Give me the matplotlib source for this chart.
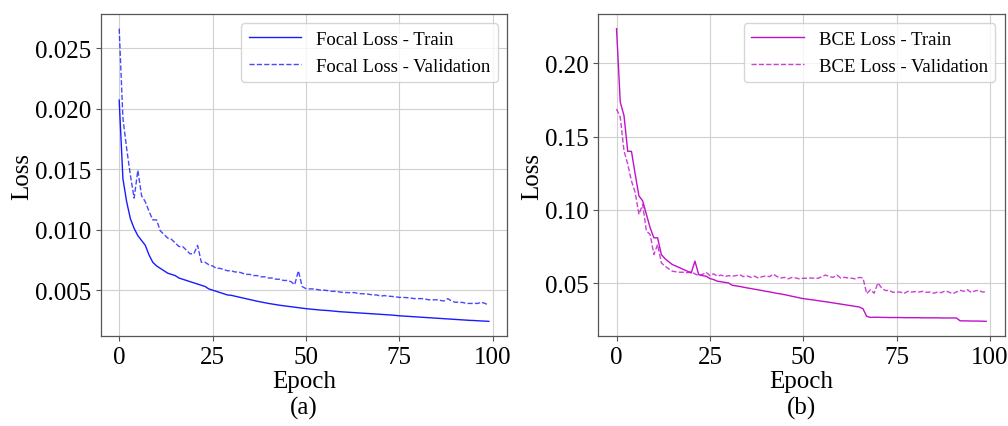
import matplotlib
matplotlib.use("Agg")
import matplotlib.pyplot as plt
import numpy as np

plt.rcParams['font.family'] = ['Liberation Serif', 'DejaVu Serif']

epochs = np.arange(100)

focal_train = [
    0.0207, 0.0142, 0.0123, 0.0109, 0.0101, 0.0095, 0.0091, 0.0087, 0.0079, 0.0073,
    0.0070, 0.0068, 0.0066, 0.0064, 0.0063, 0.0062, 0.0060, 0.0059, 0.0058, 0.0057,
    0.0056, 0.0055, 0.0054, 0.0053, 0.0051, 0.0050, 0.0049, 0.0048, 0.0047, 0.0046,
    0.00457, 0.00450, 0.00443, 0.00436, 0.00429, 0.00422, 0.00415, 0.00408, 0.00402, 0.00396,
    0.00390, 0.00385, 0.00380, 0.00375, 0.00371, 0.00367, 0.00363, 0.00359, 0.00355, 0.00351,
    0.00347, 0.00344, 0.00341, 0.00338, 0.00335, 0.00333, 0.00331, 0.00328, 0.00325, 0.00322,
    0.00320, 0.00318, 0.00316, 0.00314, 0.00312, 0.00310, 0.00308, 0.00306, 0.00304, 0.00302,
    0.00300, 0.00298, 0.00296, 0.00294, 0.00291, 0.00288, 0.00286, 0.00284, 0.00282, 0.00280,
    0.00278, 0.00276, 0.00274, 0.00272, 0.00270, 0.00268, 0.00266, 0.00264, 0.00262, 0.00260,
    0.00258, 0.00256, 0.00254, 0.00252, 0.00250, 0.00249, 0.00247, 0.00245, 0.00244, 0.00242,
]
focal_val = [
    0.0266, 0.0192, 0.0167, 0.0145, 0.0126, 0.0149, 0.0128, 0.0123, 0.0115, 0.0108,
    0.0108, 0.0099, 0.0096, 0.0093, 0.0092, 0.0089, 0.0086, 0.0086, 0.0083, 0.0080,
    0.0080, 0.0087, 0.0073, 0.0073, 0.0071, 0.0070, 0.0068, 0.0068, 0.0067, 0.0066,
    0.0066, 0.0065, 0.0065, 0.0064, 0.0063, 0.0063, 0.0062, 0.0062, 0.0061, 0.0061,
    0.0060, 0.0060, 0.0059, 0.0059, 0.0058, 0.0058, 0.0057, 0.00545, 0.0066, 0.0053,
    0.00512, 0.0051, 0.0051, 0.00505, 0.0050, 0.0050, 0.00495, 0.0049, 0.0049, 0.00485,
    0.0048, 0.0048, 0.00478, 0.0048, 0.00472, 0.0047, 0.0047, 0.00465, 0.0046, 0.0046,
    0.0045, 0.00455, 0.0045, 0.00448, 0.00445, 0.0044, 0.0044, 0.00438, 0.00435, 0.0043,
    0.0043, 0.0043, 0.00425, 0.0042, 0.0042, 0.0042, 0.00415, 0.0041, 0.0043, 0.0041,
    0.0040, 0.0040, 0.00398, 0.0039, 0.0039, 0.0039, 0.0039, 0.0040, 0.0039, 0.00375,
]

bce_train = [
    0.2237, 0.1735, 0.1644, 0.1400, 0.1400, 0.1244, 0.1096, 0.1062, 0.0970, 0.0879,
    0.0810, 0.0810, 0.0696, 0.0667, 0.0646, 0.0627, 0.0616, 0.0605, 0.0593, 0.0582,
    0.0570, 0.0651, 0.0559, 0.0552, 0.0548, 0.0532, 0.0525, 0.0514, 0.0510, 0.0506,
    0.0502, 0.0486, 0.0482, 0.0478, 0.0473, 0.0468, 0.0464, 0.0459, 0.0455, 0.0450,
    0.0445, 0.0441, 0.0436, 0.0431, 0.0427, 0.0422, 0.0417, 0.0411, 0.0406, 0.0400,
    0.0395, 0.0392, 0.0388, 0.0385, 0.0381, 0.0377, 0.0374, 0.0370, 0.0366, 0.0362,
    0.0358, 0.0354, 0.0350, 0.0346, 0.0342, 0.0338, 0.0326, 0.0274, 0.0267, 0.0268,
    0.0268, 0.0267, 0.0267, 0.0266, 0.0266, 0.0266, 0.0266, 0.0265, 0.0265, 0.0265,
    0.0265, 0.0265, 0.0264, 0.0264, 0.0264, 0.0264, 0.0264, 0.0263, 0.0263, 0.0263,
    0.0263, 0.0263, 0.0244, 0.0243, 0.0243, 0.0242, 0.0242, 0.0242, 0.0241, 0.0240,
]
bce_val = [
    0.1689, 0.1632, 0.1404, 0.1312, 0.1198, 0.1118, 0.0970, 0.1038, 0.0856, 0.0833,
    0.0696, 0.0764, 0.0639, 0.0616, 0.0598, 0.0582, 0.0578, 0.0575, 0.0575, 0.0572,
    0.0578, 0.0564, 0.0552, 0.0560, 0.0575, 0.0552, 0.0564, 0.0548, 0.0556, 0.0545,
    0.0552, 0.0548, 0.0552, 0.0558, 0.0545, 0.0550, 0.0540, 0.0548, 0.0535, 0.0545,
    0.0550, 0.0545, 0.0562, 0.0545, 0.0536, 0.0540, 0.0530, 0.0540, 0.0536, 0.0530,
    0.0534, 0.0534, 0.0536, 0.0534, 0.0534, 0.0545, 0.0556, 0.0545, 0.0540, 0.0556,
    0.0536, 0.0540, 0.0536, 0.0534, 0.0530, 0.0540, 0.0536, 0.0429, 0.0456, 0.0432,
    0.0502, 0.0468, 0.0450, 0.0452, 0.0438, 0.0440, 0.0440, 0.0430, 0.0445, 0.0440,
    0.0443, 0.0440, 0.0445, 0.0438, 0.0440, 0.0432, 0.0440, 0.0436, 0.0448, 0.0440,
    0.0428, 0.0440, 0.0452, 0.0445, 0.0456, 0.0436, 0.0448, 0.0452, 0.0440, 0.0443,
]

fig = plt.figure(figsize=(10.08, 4.27), dpi=100)
ax1 = fig.add_axes([0.0999, 0.2108, 0.4034, 0.7540])
ax2 = fig.add_axes([0.5933, 0.2108, 0.4034, 0.7540])

panels = [
    (ax1, focal_train, focal_val, '#1a1aff', 'Focal Loss', '(a)'),
    (ax2, bce_train, bce_val, '#c010c8', 'BCE Loss', '(b)'),
]

for ax, train, val, color, name, tag in panels:
    ax.plot(epochs, train, color=color, lw=1.0, label=f'{name} - Train')
    ax.plot(epochs, val, color=color, lw=1.0, ls='--', alpha=0.8,
            label=f'{name} - Validation')
    ax.grid(True, color='#d0d0d0', lw=0.8)
    ax.set_axisbelow(True)
    for s in ax.spines.values():
        s.set_color('#555555')
        s.set_linewidth(0.9)
    ax.tick_params(labelsize=18, color='#555555')
    ax.set_xlabel('Epoch', fontsize=18, labelpad=2)
    ax.set_ylabel('Loss', fontsize=18, labelpad=1)
    ax.set_xticks([0, 25, 50, 75, 100])
    ax.legend(loc='upper right', fontsize=13.5, handlelength=2.8)
    pos = ax.get_position()
    fig.text((pos.x0 + pos.x1) / 2, 0.044, tag, fontsize=18, ha='center', va='center')

fig.savefig('out.png', dpi=100)
